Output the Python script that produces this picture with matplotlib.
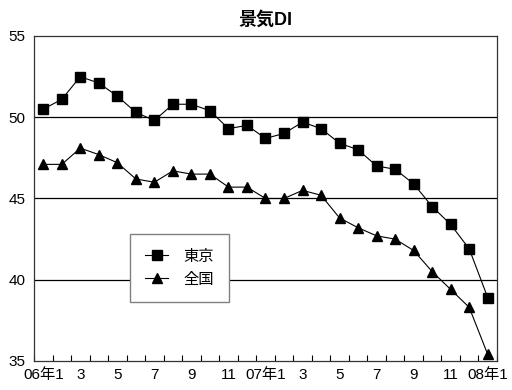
import matplotlib
matplotlib.use("Agg")
import matplotlib.pyplot as plt
import numpy as np

plt.rcParams['font.family'] = ['Liberation Sans', 'Noto Sans CJK JP', 'DejaVu Sans']

# 06年1月 ～ 08年1月 (月次)
tokyo = [50.5, 51.1, 52.5, 52.1, 51.3, 50.3, 49.8, 50.8, 50.8, 50.4, 49.3, 49.5,
         48.7, 49.0, 49.7, 49.3, 48.4, 48.0, 47.0, 46.8, 45.9, 44.5, 43.4, 41.9, 38.9]
zenkoku = [47.1, 47.1, 48.1, 47.7, 47.2, 46.2, 46.0, 46.7, 46.5, 46.5, 45.7, 45.7,
           45.0, 45.0, 45.5, 45.2, 43.8, 43.2, 42.7, 42.5, 41.8, 40.5, 39.4, 38.3, 35.4]
labels = ['06年1', '3', '5', '7', '9', '11', '07年1', '3', '5', '7', '9', '11', '08年1']

x = np.arange(len(tokyo))

fig = plt.figure(figsize=(5.12, 3.9), dpi=100)
ax = fig.add_axes([0.0664, 0.0744, 0.9043, 0.8333])

ax.set_ylim(35, 55)
ax.set_xlim(-0.5, len(tokyo) - 0.5)
ax.set_yticks([35, 40, 45, 50, 55])
for v in [40, 45, 50]:
    ax.axhline(v, color='black', lw=0.9, zorder=1)

ax.plot(x, tokyo, color='black', lw=0.8, marker='s', ms=6.5, label='東京', zorder=3)
ax.plot(x, zenkoku, color='black', lw=0.8, marker='^', ms=7, label='全国', zorder=3)

ax.set_xticks(x[::2])
ax.set_xticklabels(labels)
ax.set_xticks(np.arange(-0.5, len(tokyo)), minor=True)
ax.tick_params(axis='x', which='major', length=0, labelsize=11, pad=5)
ax.tick_params(axis='x', which='minor', direction='in', length=4, width=0.8)
ax.tick_params(axis='y', length=0, labelsize=11, pad=6)

for s in ax.spines.values():
    s.set_color('#333333')
    s.set_linewidth(0.9)

ax.set_title('景気DI', fontsize=13, fontweight='bold', pad=8)

leg = ax.legend(loc='upper left', bbox_to_anchor=(0.207, 0.39), frameon=True,
                fancybox=False, edgecolor='gray', framealpha=1, fontsize=11,
                handlelength=1.5, borderpad=1.0, labelspacing=0.6,
                handletextpad=1.0, borderaxespad=0)
leg.get_frame().set_linewidth(1.0)

fig.savefig('out.png', dpi=100)
